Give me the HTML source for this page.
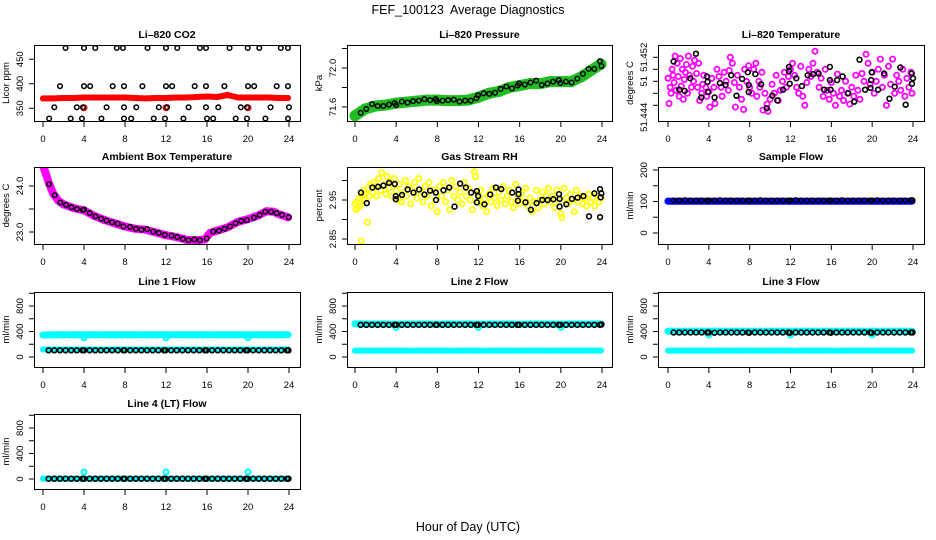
<!DOCTYPE html>
<html>
<head>
<meta charset="utf-8">
<title>FEF_100123 Average Diagnostics</title>
<style>
  html, body { margin: 0; padding: 0; background: #ffffff; }
  body { width: 936px; height: 540px; overflow: hidden; }
  svg { display: block; font-family: "Liberation Sans", "DejaVu Sans", sans-serif; }
</style>
</head>
<body>
<svg id="chart" width="936" height="540" viewBox="0 0 936 540" xmlns="http://www.w3.org/2000/svg">
  <rect x="0" y="0" width="936" height="540" fill="#ffffff"/>
  <text x="468" y="14" text-anchor="middle" font-size="12.5" fill="#000" style="white-space:pre">FEF_100123  Average Diagnostics</text>
  <text x="468" y="531" text-anchor="middle" font-size="12.5" fill="#000">Hour of Day (UTC)</text>
</svg>
<script>
// ---------- data ----------
const xTicks = [0, 4, 8, 12, 16, 20, 24];
const bandHours = [0,1,2,3,4,5,6,7,8,9,10,11,12,13,14,15,16,17,18,19,20,21,22,23,23.9];
const avgHours = [0.55,1.1,1.65,2.2,2.75,3.3,3.85,4.0,4.55,5.1,5.65,6.2,6.75,7.3,7.85,7.95,8.5,9.05,9.6,10.15,10.7,11.25,11.8,11.95,12.5,13.05,13.6,14.15,14.7,15.25,15.8,15.95,16.5,17.05,17.6,18.15,18.7,19.25,19.8,19.95,20.5,21.05,21.6,22.15,22.7,23.25,23.8,23.95];
const spikeHours = [4.0, 12.0, 20.0];

// Li-820 CO2
const co2Band = [370,370,371,371,372,372,372,372,372,371,370,371,371,372,372,373,374,373,377,372,372,372,372,371,371];
const co2SpikeVals = [351,351,351];
const co2BlackHours = [2.2,4.0,5.1,7.2,7.8,10.2,12.0,13.1,15.3,15.9,18.2,19.97,21.1,23.2,23.9, 1.66,4.0,4.6,6.8,7.9,9.7,12.0,12.6,14.8,15.9,17.7,20.0,20.6,22.8,23.9, 1.1,3.3,3.9,6.2,7.9,9.1,11.3,12.1,14.2,15.9,17.1,19.3,19.9,22.2,24.0, 0.6,2.7,3.8,5.7,7.9,8.6,10.8,11.9,13.7,16.0,16.6,18.8,19.9,21.7,23.9];
const co2BlackVals = [473,473,473,473,473,473,473,473,473,473,473,473,473,473,473, 395,395,395,395,395,395,395,395,395,395,395,395,395,395,395, 352,352,352,352,352,352,352,352,352,352,352,352,352,352,352, 329,329,329,329,329,329,329,329,329,329,329,329,329,329,329];

// Li-820 Pressure
const pressureBand = [71.51,71.58,71.61,71.62,71.64,71.65,71.66,71.67,71.67,71.665,71.665,71.67,71.70,71.74,71.76,71.80,71.82,71.84,71.84,71.86,71.86,71.86,71.91,71.98,72.04];
const pressureAvg = [71.54,71.58,71.63,71.61,71.61,71.625,71.64,71.62,71.655,71.645,71.66,71.665,71.68,71.67,71.68,71.66,71.665,71.67,71.675,71.655,71.665,71.665,71.69,71.72,71.74,71.735,71.745,71.785,71.81,71.79,71.82,71.84,71.83,71.85,71.87,71.825,71.84,71.86,71.875,71.845,71.86,71.85,71.89,71.94,71.99,71.99,72.07,72.02];

// Li-820 Temperature
const liTempHours = [0.0,0.1,0.2,0.3,0.4,0.5,0.6,0.7,0.8,0.9,1.0,1.1,1.2,1.3,1.4,1.5,1.6,1.7,1.8,1.9,2.0,2.1,2.3,2.4,2.5,2.6,2.8,2.9,3.0,3.1,3.3,3.4,3.5,3.7,3.8,4.0,4.1,4.3,4.5,4.6,4.8,5.0,5.2,5.3,5.5,5.7,5.9,6.0,6.1,6.3,6.5,6.6,6.8,7.0,7.2,7.4,7.5,7.7,7.9,8.0,8.2,8.4,8.6,8.7,8.9,9.0,9.2,9.3,9.5,9.7,9.8,10.0,10.2,10.4,10.6,10.8,11.0,11.2,11.4,11.6,11.8,12.0,12.2,12.4,12.6,12.8,13.0,13.2,13.4,13.6,13.8,14.0,14.2,14.4,14.6,14.8,15.0,15.2,15.4,15.6,15.8,16.0,16.2,16.4,16.6,16.8,17.0,17.2,17.4,17.6,17.8,18.0,18.2,18.4,18.6,18.8,19.0,19.2,19.4,19.6,19.8,20.0,20.2,20.4,20.6,20.8,21.0,21.2,21.4,21.6,21.8,22.0,22.2,22.4,22.6,22.8,23.0,23.2,23.4,23.6,23.8,23.9];
const liTempVals = [51.4485,51.4443,51.4470,51.4460,51.4500,51.4490,51.4478,51.4522,51.4465,51.4510,51.4488,51.4455,51.4518,51.4472,51.4500,51.4450,51.4483,51.4495,51.4508,51.4460,51.4522,51.4490,51.4470,51.4505,51.4480,51.4515,51.4493,51.4470,51.4510,51.4448,51.4460,51.4475,51.4490,51.4470,51.4455,51.4463,51.4437,51.4485,51.4470,51.4443,51.4500,51.4488,51.4470,51.4455,51.4495,51.4480,51.4465,51.4498,51.4520,51.4510,51.4478,51.4437,51.4490,51.4470,51.4450,51.4433,51.4500,51.4480,51.4506,51.4470,51.4460,51.4500,51.4510,51.4455,51.4480,51.4470,51.4495,51.4432,51.4460,51.4442,51.4430,51.4450,51.4475,51.4460,51.4490,51.4448,51.4465,51.4480,51.4495,51.4470,51.4488,51.4500,51.4510,51.4490,51.4470,51.4460,51.4505,51.4455,51.4440,51.4478,51.4500,51.4488,51.4510,51.4530,51.4495,51.4470,51.4485,51.4455,51.4500,51.4465,51.4450,51.4478,51.4460,51.4440,51.4492,51.4455,51.4465,51.4448,51.4480,51.4460,51.4442,51.4470,51.4455,51.4490,51.4465,51.4450,51.4493,51.4480,51.4525,51.4510,51.4475,51.4495,51.4460,51.4480,51.4500,51.4517,51.4470,51.4490,51.4440,51.4505,51.4475,51.4517,51.4460,51.4490,51.4480,51.4465,51.4500,51.4455,51.4485,51.4470,51.4495,51.4460];
const liTempAvgHours = [0.55,1.11,1.63,2.18,2.74,3.26,3.81,3.88,3.91,4.56,5.08,5.64,6.19,6.71,7.26,7.82,7.91,7.91,8.56,9.12,9.67,10.22,10.71,11.27,11.85,11.85,11.92,12.57,13.12,13.68,14.23,14.75,15.3,15.86,15.86,15.92,16.57,17.1,17.65,18.24,18.76,19.31,19.83,19.9,19.96,20.58,21.17,21.69,22.21,22.76,23.28,23.87,23.9,24.0];
const liTempAvgVals = [51.4513,51.4466,51.4464,51.4485,51.4526,51.4453,51.4488,51.4479,51.4462,51.4453,51.4477,51.4474,51.4490,51.4456,51.4484,51.4495,51.4474,51.4462,51.4492,51.4475,51.4435,51.4456,51.4448,51.4466,51.4504,51.4497,51.4476,51.4485,51.4472,51.4490,51.4492,51.4493,51.4466,51.4504,51.4482,51.4466,51.4482,51.4488,51.4460,51.4446,51.4516,51.4466,51.4469,51.4482,51.4495,51.4466,51.4493,51.4451,51.4471,51.4503,51.4441,51.4493,51.4476,51.4485];

// Ambient Box Temperature
const ambientBandHours = [0,0.3,0.6,1,1.5,2,3,4,5,6,7,8,9,10,11,12,13,14,15,15.8,16.3,17,18,19,20,21,21.8,22.5,23,23.9];
const ambientBand = [24.45,24.25,24.05,23.83,23.68,23.6,23.52,23.47,23.35,23.26,23.19,23.12,23.07,23.05,22.99,22.93,22.89,22.83,22.82,22.84,22.98,23.03,23.1,23.22,23.28,23.36,23.45,23.44,23.39,23.32];
const ambientAvgHours = [0.59,1.14,1.69,2.25,2.77,3.32,3.88,4.0,4.56,5.11,5.67,6.19,6.74,7.3,7.85,8.5,9.06,9.61,10.16,10.75,11.3,11.89,12.54,13.1,13.65,14.2,14.76,15.31,15.96,16.61,17.17,17.72,18.24,18.79,19.35,19.9,20.58,21.14,21.69,22.25,22.8,23.32,23.97];
const ambientAvgVals = [24.04,23.80,23.64,23.59,23.54,23.50,23.48,23.49,23.41,23.34,23.29,23.25,23.21,23.18,23.12,23.11,23.07,23.05,23.06,23.01,22.98,22.94,22.92,22.89,22.85,22.82,22.84,22.82,22.86,23.01,23.03,23.07,23.12,23.19,23.24,23.26,23.31,23.37,23.44,23.44,23.41,23.37,23.32];

// Gas Stream RH
const rhHours = [0.0,0.1,0.2,0.3,0.4,0.5,0.6,0.7,0.8,0.9,1.0,1.2,1.3,1.4,1.5,1.7,1.8,2.0,2.1,2.3,2.5,2.6,2.8,3.0,3.1,3.3,3.5,3.6,3.8,4.0,4.2,4.3,4.5,4.7,4.9,5.0,5.2,5.4,5.6,5.8,6.0,6.2,6.4,6.6,6.8,7.0,7.2,7.4,7.6,7.8,8.0,8.2,8.4,8.6,8.8,9.0,9.2,9.4,9.6,9.8,10.0,10.2,10.4,10.6,10.8,11.0,11.2,11.4,11.6,11.7,11.9,12.0,12.2,12.4,12.6,12.8,13.0,13.2,13.4,13.6,13.8,14.0,14.2,14.4,14.6,14.8,15.0,15.2,15.4,15.6,15.8,16.0,16.2,16.4,16.6,16.8,17.0,17.2,17.4,17.6,17.8,18.0,18.2,18.4,18.6,18.8,19.0,19.2,19.4,19.6,19.8,20.0,20.1,20.3,20.5,20.7,20.9,21.1,21.3,21.5,21.7,21.9,22.1,22.3,22.5,22.7,22.9,23.1,23.3,23.5,23.7,23.9];
const rhVals = [2.940,2.925,2.945,2.930,2.955,2.935,2.845,2.960,2.975,2.950,2.965,2.893,2.980,2.960,2.990,2.970,2.995,2.985,2.960,3.005,2.975,3.020,2.990,2.965,3.010,2.980,2.995,2.960,3.005,2.975,2.950,2.990,2.945,2.970,3.000,2.960,2.985,2.940,2.975,2.995,2.955,3.005,2.970,2.945,2.985,2.960,2.995,2.935,2.975,2.950,2.920,2.985,2.960,2.995,2.945,2.975,2.925,3.000,2.960,2.985,2.950,2.970,2.940,2.995,2.960,2.980,2.950,2.925,3.023,3.010,2.965,2.945,2.975,2.935,2.955,2.920,2.965,2.945,2.980,2.955,2.935,2.970,2.950,2.985,2.940,2.960,2.975,2.945,2.930,2.990,2.955,2.940,2.965,2.945,2.980,2.935,2.955,2.920,2.945,2.975,2.930,2.950,2.970,2.940,2.960,2.980,2.945,2.960,2.930,2.975,2.945,2.915,2.905,2.980,2.955,2.940,2.965,2.950,2.920,2.975,2.945,2.960,2.940,2.955,2.935,2.965,2.945,2.955,2.935,2.965,2.945,2.955];
const rhAvgHours = [0.58,1.14,1.69,2.24,2.76,3.31,3.86,3.96,3.96,4.57,5.12,5.68,6.23,6.75,7.3,7.85,7.88,8.6,9.15,9.67,10.22,10.77,11.29,11.84,11.84,11.97,12.58,13.14,13.69,14.21,15.28,15.89,15.89,15.83,16.57,17.09,17.65,18.2,18.72,19.27,19.82,19.88,19.88,20.53,21.08,21.63,22.19,22.74,23.26,23.81,23.94,23.87,23.81];
const rhAvgVals = [2.969,2.942,2.982,2.984,2.987,2.994,2.991,2.960,2.952,2.963,2.977,2.969,2.977,2.964,2.974,2.969,2.950,2.975,2.982,2.933,2.992,2.982,2.969,2.973,2.944,2.960,2.939,2.964,2.982,2.978,2.969,2.977,2.965,2.948,2.944,2.925,2.942,2.950,2.950,2.952,2.965,2.953,2.933,2.939,2.953,2.956,2.960,2.908,2.967,2.978,2.967,2.957,2.906];

// Sample Flow
const sampleBand = [101,101,101,101,101,101,101,101,101,101,101,101,101,101,101,101,101,101,101,101,101,101,101,101,101];
const sampleAvg = [103,103,104,103,103,103,103,103,103,104,103,103,103,103,103,103,103,104,103,103,103,103,103,103,104,103,103,103,103,103,103,103,103,104,103,103,103,103,103,103,104,103,103,103,103,103,104,104];

// Line 1 Flow
const line1High = [345,348,350,350,348,350,350,350,350,350,350,350,349,350,350,350,350,350,350,350,348,350,350,350,350];
const line1Low = [118,118,118,118,118,118,118,118,118,118,118,118,118,118,118,118,118,118,118,118,118,118,118,118,118];
const line1Spike = [300,300,300];
const line1Avg = [105,105,105,105,105,105,105,105,105,105,105,105,105,105,105,105,105,105,105,105,105,105,105,105,105,105,105,105,105,105,105,105,105,105,105,105,105,105,105,105,105,105,105,105,105,105,105,105];

// Line 2 Flow
const line2High = [520,518,518,518,515,518,518,518,515,518,518,518,515,518,518,518,515,518,518,518,515,518,518,518,518];
const line2Low = [100,100,100,100,100,100,100,100,100,100,100,100,100,100,100,100,100,100,100,100,100,100,100,100,100];
const line2Spike = [465,465,465];
const line2Avg = [505,505,505,505,505,505,505,505,505,505,505,505,505,505,505,505,505,505,505,505,505,505,505,505,505,505,505,505,505,505,505,505,505,505,505,505,505,505,505,505,505,505,505,505,505,505,505,510];

// Line 3 Flow
const line3High = [405,405,405,405,405,405,405,405,405,405,405,405,405,405,405,405,405,405,405,405,405,405,405,405,405];
const line3Low = [100,100,100,100,100,100,100,100,100,100,100,100,100,100,100,100,100,100,100,100,100,100,100,100,100];
const line3Spike = [345,345,345];
const line3Avg = [385,385,385,385,385,385,385,385,380,385,385,385,385,385,385,380,385,385,385,385,385,385,385,380,385,385,385,385,385,385,385,380,385,385,385,385,385,385,385,380,385,385,385,385,385,385,385,385];

// Line 4 (LT) Flow
const line4Band = [5,5,5,5,5,5,5,5,5,5,5,5,5,5,5,5,5,5,5,5,5,5,5,5,5];
const line4Spike = [110,110,110];
const line4Avg = [5,5,5,5,5,5,5,5,5,5,5,5,5,5,5,5,5,5,5,5,5,5,5,5,5,5,5,5,5,5,5,5,5,5,5,5,5,5,5,5,5,5,5,5,5,5,5,5];

// ---------- layout ----------
const NS = 'http://www.w3.org/2000/svg';
const svg = document.getElementById('chart');
const cols = [{L:34,R:300,x0:43,x24:289},{L:347,R:612,x0:355,x24:602},{L:658,R:924,x0:668,x24:913}];
const rows = [{T:45,B:121},{T:167,B:244},{T:292,B:367},{T:414,B:489}];
let clipId = 0;

function mk(tag, attrs, parent) {
  const el = document.createElementNS(NS, tag);
  for (const k in attrs) el.setAttribute(k, attrs[k]);
  parent.appendChild(el);
  return el;
}

function makePanel(key, c, r, title, ylab, ylim, yticks, ylabels) {
  const col = cols[c], row = rows[r];
  const g = mk('g', {}, svg);
  
  
  const sx = h => col.x0 + (h / 24) * (col.x24 - col.x0);
  const sy = v => row.B - (v - ylim[0]) / (ylim[1] - ylim[0]) * (row.B - row.T);
  const t = mk('text', {x: (col.L + col.R) / 2, y: row.T - 7, 'text-anchor': 'middle', 'font-size': '10.5', 'font-weight': 'bold'}, g);
  t.textContent = title;
  
  
  clipId++;
  const cp = mk('clipPath', {id: 'clip' + clipId}, g);
  mk('rect', {x: col.L, y: row.T, width: col.R - col.L, height: row.B - row.T}, cp);
  const plot = mk('g', {'clip-path': 'url(#clip' + clipId + ')'}, g);
  
  
  const xa = mk('g', {stroke: '#000', 'stroke-width': '1'}, g);
  
  
  mk('line', {x1: sx(0), x2: sx(24), y1: row.B + 0.5, y2: row.B + 0.5}, xa);
  xTicks.forEach(v => {
    mk('line', {x1: sx(v), x2: sx(v), y1: row.B, y2: row.B + 6}, xa);
    const tl = mk('text', {x: sx(v), y: row.B + 21, 'text-anchor': 'middle', 'font-size': '9.5', stroke: 'none', fill: '#000'}, xa);
    tl.textContent = String(v);
    
    
  });
  const ya = mk('g', {stroke: '#000', 'stroke-width': '1'}, g);
  
  
  mk('line', {x1: col.L + 0.5, x2: col.L + 0.5, y1: sy(yticks[0]), y2: sy(yticks[yticks.length - 1])}, ya);
  yticks.forEach(v => { mk('line', {x1: col.L - 5, x2: col.L, y1: sy(v), y2: sy(v)}, ya); });
  ylabels.forEach(([v, txt, dy]) => {
    const yy = sy(v) + (dy || 0), xx = col.L - 11;
    const tl = mk('text', {x: xx, y: yy, 'text-anchor': 'middle', 'font-size': '9.5', stroke: 'none', fill: '#000', transform: 'rotate(-90 ' + xx + ' ' + yy + ')'}, ya);
    tl.textContent = txt;
    
    
  });
  const lx = col.L - 25, ly = (row.T + row.B) / 2;
  const yl = mk('text', {x: lx, y: ly, 'text-anchor': 'middle', 'font-size': '9.5', transform: 'rotate(-90 ' + lx + ' ' + ly + ')'}, g);
  yl.textContent = ylab;
  
  
  const box = mk('rect', {x: col.L + 0.5, y: row.T + 0.5, width: col.R - col.L, height: row.B - row.T, fill: 'none', stroke: '#000', 'stroke-width': '1'}, g);
  
  
  return {plot, sx, sy};
}

function band(p, name, hours, vals, color, width) {
  const pts = hours.map((h, i) => p.sx(h).toFixed(1) + ',' + p.sy(vals[i]).toFixed(1)).join(' ');
  const pl = mk('polyline', {points: pts, fill: 'none', stroke: color, 'stroke-width': width, 'stroke-linecap': 'round', 'stroke-linejoin': 'round'}, p.plot);
  
  
  hours.forEach((h, i) => {
    const c = mk('circle', {cx: p.sx(h), cy: p.sy(vals[i]), r: width / 2, fill: color}, p.plot);
    
    
  });
}

function scatter(p, name, hours, vals, color, r, sw) {
  hours.forEach((h, i) => {
    const c = mk('circle', {cx: p.sx(h), cy: p.sy(vals[i]), r: r, fill: 'none', stroke: color, 'stroke-width': sw}, p.plot);
    
    
  });
}

// ---------- panels ----------
const flowTicks = [0,200,400,600,800,1000];
const flowLabels = [[0,'0'],[400,'400'],[800,'800']];
const flowLim = [-157, 1020];

let p = makePanel('co2', 0, 0, 'Li\u2013820 CO2', 'Licor ppm', [324, 479], [350,400,450], [[350,'350'],[400,'400'],[450,'450']]);
band(p, 'co2-raw-band', bandHours, co2Band, '#ff0000', 6);
scatter(p, 'co2-raw-spike', spikeHours, co2SpikeVals, '#ff0000', 2.5, 2);
scatter(p, 'co2-average-point', co2BlackHours, co2BlackVals, '#000', 2.3, 1.5);

p = makePanel('pressure', 1, 0, 'Li\u2013820 Pressure', 'kPa', [71.456, 72.236], [71.6,71.8,72.0,72.2], [[71.6,'71.6'],[72.0,'72.0']]);
band(p, 'pressure-raw-band', bandHours, pressureBand, '#1fbf1f', 11);
scatter(p, 'pressure-average-point', avgHours, pressureAvg, '#000', 2.3, 1.5);

p = makePanel('li-temp', 2, 0, 'Li\u2013820 Temperature', 'degrees C', [51.44138, 51.45405], [51.444,51.446,51.448,51.450,51.452], [[51.444,'51.444',12],[51.448,'51'],[51.452,'51.452']]);
scatter(p, 'li-temp-raw-point', liTempHours, liTempVals, '#ff00ff', 2.6, 1.8);
scatter(p, 'li-temp-average-point', liTempAvgHours, liTempAvgVals, '#000', 2.4, 1.6);

p = makePanel('ambient-temp', 0, 1, 'Ambient Box Temperature', 'degrees C', [22.739, 24.413], [23.0,23.5,24.0], [[23.0,'23.0'],[24.0,'24.0']]);
band(p, 'ambient-temp-raw-band', ambientBandHours, ambientBand, '#ff00ff', 8);
scatter(p, 'ambient-temp-average-point', ambientAvgHours, ambientAvgVals, '#000', 2.3, 1.5);

p = makePanel('rh', 1, 1, 'Gas Stream RH', 'percent', [2.8372, 3.0346], [2.85,2.90,2.95,3.00], [[2.85,'2.85'],[2.95,'2.95']]);
scatter(p, 'rh-raw-point', rhHours, rhVals, '#ffff00', 2.6, 1.8);
scatter(p, 'rh-average-point', rhAvgHours, rhAvgVals, '#000', 2.4, 1.6);

p = makePanel('sample-flow', 2, 1, 'Sample Flow', 'ml/min', [-35, 209.5], [0,50,100,150,200], [[0,'0'],[100,'100'],[200,'200']]);
band(p, 'sample-flow-raw-band', bandHours, sampleBand, '#0000ff', 7);
scatter(p, 'sample-flow-average-point', avgHours, sampleAvg, '#000', 2.3, 1.5);

p = makePanel('line1-flow', 0, 2, 'Line 1 Flow', 'ml/min', flowLim, flowTicks, flowLabels);
band(p, 'line1-high-band', bandHours, line1High, '#00ffff', 7);
band(p, 'line1-low-band', bandHours, line1Low, '#00ffff', 6);
scatter(p, 'line1-spike', spikeHours, line1Spike, '#00ffff', 2.5, 2);
scatter(p, 'line1-average-point', avgHours, line1Avg, '#000', 2.4, 1.6);

p = makePanel('line2-flow', 1, 2, 'Line 2 Flow', 'ml/min', flowLim, flowTicks, flowLabels);
band(p, 'line2-high-band', bandHours, line2High, '#00ffff', 7);
band(p, 'line2-low-band', bandHours, line2Low, '#00ffff', 6);
scatter(p, 'line2-spike', spikeHours, line2Spike, '#00ffff', 2.5, 2);
scatter(p, 'line2-average-point', avgHours, line2Avg, '#000', 2.4, 1.6);

p = makePanel('line3-flow', 2, 2, 'Line 3 Flow', 'ml/min', flowLim, flowTicks, flowLabels);
band(p, 'line3-high-band', bandHours, line3High, '#00ffff', 7);
band(p, 'line3-low-band', bandHours, line3Low, '#00ffff', 6);
scatter(p, 'line3-spike', spikeHours, line3Spike, '#00ffff', 2.5, 2);
scatter(p, 'line3-average-point', avgHours, line3Avg, '#000', 2.4, 1.6);

p = makePanel('line4-flow', 0, 3, 'Line 4 (LT) Flow', 'ml/min', flowLim, flowTicks, flowLabels);
band(p, 'line4-band', bandHours, line4Band, '#00ffff', 6);
scatter(p, 'line4-spike', spikeHours, line4Spike, '#00ffff', 2.5, 2);
scatter(p, 'line4-average-point', avgHours, line4Avg, '#000', 2.4, 1.6);
</script>
</body>
</html>
